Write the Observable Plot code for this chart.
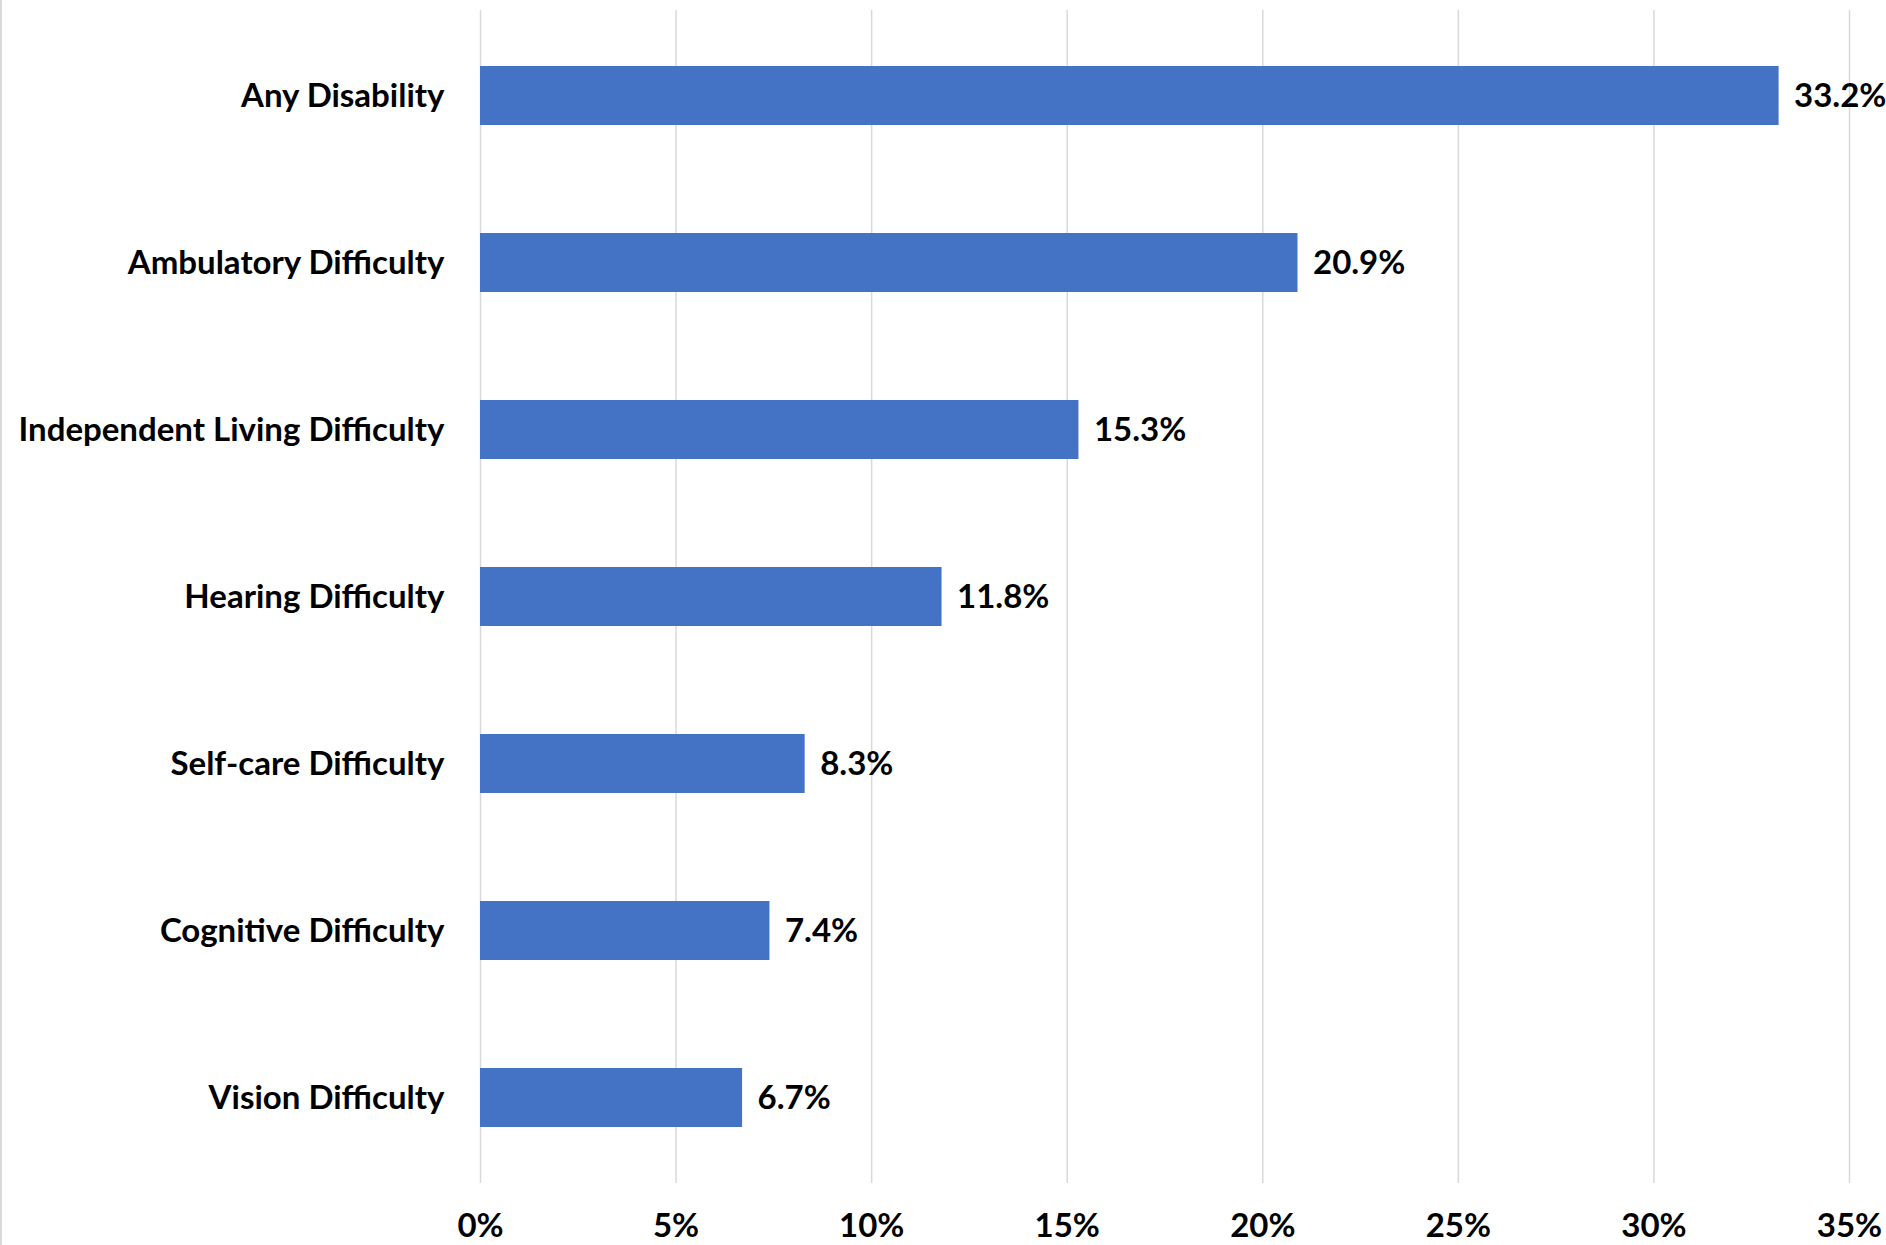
<!DOCTYPE html>
<html>
<head>
<meta charset="utf-8">
<script src="https://cdn.jsdelivr.net/npm/d3@7"></script>
<script src="https://cdn.jsdelivr.net/npm/@observablehq/plot@0.6"></script>
<style>
  html, body { margin: 0; padding: 0; background: #fff; }
  #wrap { position: relative; width: 1886px; height: 1245px; }
  #border { position: absolute; left: 0; top: 0; width: 2px; height: 1245px; background: #d9d9d9; }
</style>
</head>
<body>
<div id="wrap"><div id="border"></div></div>
<script>
const categories = [
  "Any Disability",
  "Ambulatory Difficulty",
  "Independent Living Difficulty",
  "Hearing Difficulty",
  "Self-care Difficulty",
  "Cognitive Difficulty",
  "Vision Difficulty"
];
const values = [33.2, 20.9, 15.3, 11.8, 8.3, 7.4, 6.7];
const xTicks = [0, 5, 10, 15, 20, 25, 30, 35];

const data = categories.map((c, i) => ({category: c, value: values[i]}));
const FONT = "Lato, 'Open Sans', sans-serif";
const FS = 33;

const chart = Plot.plot({
  width: 1886,
  height: 1245,
  marginTop: 10,
  marginBottom: 62,
  marginLeft: 480,
  marginRight: 37,
  style: {fontFamily: FONT, fontSize: FS + "px", fontWeight: "bold", color: "#000", background: "#fff"},
  x: {domain: [0, 35]},
  y: {domain: categories, paddingInner: 0.646, paddingOuter: 0.323},
  marks: [
    Plot.gridX(xTicks, {stroke: "#d9d9d9", strokeOpacity: 1, strokeWidth: 1.5}),
    Plot.barX(data, {x: "value", y: "category", fill: "#4472C4"}),
    Plot.text(data, {x: "value", y: "category", text: d => d.value.toFixed(1) + "%", textAnchor: "start", dx: 15, fontSize: FS, fontWeight: "bold", fill: "#000"}),
    Plot.axisX(xTicks, {tickSize: 0, tickPadding: 30, tickFormat: d => d + "%", fontSize: FS, fontWeight: "bold", fill: "#000", label: null}),
    Plot.axisY({tickSize: 0, tickPadding: 36, fontSize: FS, fontWeight: "bold", fill: "#000", label: null})
  ]
});
document.getElementById("wrap").appendChild(chart);
</script>
</body>
</html>
